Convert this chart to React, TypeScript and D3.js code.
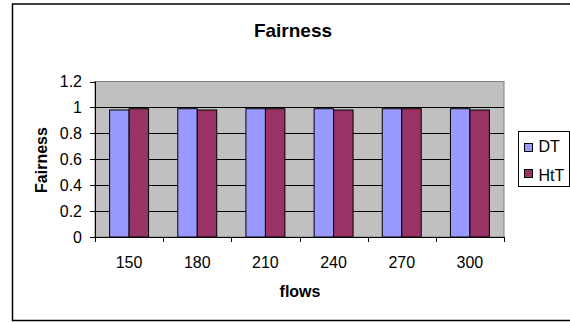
import React from "react";
import * as d3 from "d3";

const categories = ["150", "180", "210", "240", "270", "300"];
const seriesNames = ["DT", "HtT"];
const dtValues = [0.98, 0.99, 0.99, 0.99, 0.99, 0.99];
const httValues = [0.99, 0.98, 0.99, 0.98, 0.99, 0.98];
const yTicks = [0, 0.2, 0.4, 0.6, 0.8, 1, 1.2];
const colors = ["#9999FF", "#993366"];

const W = 570;
const H = 322;
const plot = { left: 95, right: 504, top: 81.5, bottom: 237 };
const FONT = "'Liberation Sans', Arial, sans-serif";

export default function App() {
  const x = d3.scaleBand<string>().domain(categories).range([plot.left, plot.right]).padding(0);
  const xs = d3.scaleBand<string>().domain(seriesNames).range([0, x.bandwidth()]).paddingInner(0).paddingOuter(0.75);
  const y = d3.scaleLinear().domain([0, 1.2]).range([plot.bottom, plot.top]);
  const series = [dtValues, httValues];
  const fmt = (v: number) => (v === 0 ? "0" : v === 1 ? "1" : d3.format(".1f")(v));

  return (
    <svg width={W} height={H} style={{ position: "absolute", left: 0, top: 0, display: "block", background: "#fff" }}>
      <rect x={12.5} y={4} width={600} height={316.5} fill="#fff" stroke="#000" strokeWidth={1.5} />
      <text x={293} y={36.5} textAnchor="middle" fontFamily={FONT} fontWeight="bold" fontSize={19}>Fairness</text>
      <rect x={plot.left} y={plot.top} width={plot.right - plot.left} height={plot.bottom - plot.top} fill="#C0C0C0" stroke="#808080" strokeWidth={1} />
      {yTicks.filter((t) => t > 0 && t < 1.2).map((t) => (
        <line key={"g" + t} x1={plot.left} x2={plot.right} y1={Math.round(y(t)) + 0.5} y2={Math.round(y(t)) + 0.5} stroke="#000" strokeWidth={1} />
      ))}
      {categories.map((c, i) =>
        series.map((vals, s) => (
          <rect
            key={c + s}
            x={x(c)! + xs(seriesNames[s])!}
            y={y(vals[i])}
            width={xs.bandwidth()}
            height={y(0) - y(vals[i])}
            fill={colors[s]}
            stroke="#000"
            strokeWidth={1}
          />
        ))
      )}
      <line x1={plot.left + 0.5} x2={plot.left + 0.5} y1={plot.top} y2={plot.bottom} stroke="#000" />
      <line x1={plot.left} x2={plot.right} y1={plot.bottom + 0.5} y2={plot.bottom + 0.5} stroke="#000" />
      {yTicks.map((t) => (
        <g key={"yt" + t}>
          <line x1={plot.left - 5} x2={plot.left} y1={Math.round(y(t)) + 0.5} y2={Math.round(y(t)) + 0.5} stroke="#000" />
          <text x={82} y={y(t) + 5.5} textAnchor="end" fontFamily={FONT} fontSize={16}>{fmt(t)}</text>
        </g>
      ))}
      {[...categories.map((c) => x(c)!), plot.right].map((px, i) => (
        <line key={"xt" + i} x1={Math.round(px) + 0.5} x2={Math.round(px) + 0.5} y1={plot.bottom} y2={plot.bottom + 5} stroke="#000" />
      ))}
      {categories.map((c) => (
        <text key={"xl" + c} x={x(c)! + x.bandwidth() / 2} y={268} textAnchor="middle" fontFamily={FONT} fontSize={16}>{c}</text>
      ))}
      <text x={300} y={297} textAnchor="middle" fontFamily={FONT} fontWeight="bold" fontSize={16}>flows</text>
      <text transform={`translate(46.5,160) rotate(-90)`} textAnchor="middle" fontFamily={FONT} fontWeight="bold" fontSize={16}>Fairness</text>
      <rect x={518.5} y={131.5} width={51} height={55} fill="#fff" stroke="#000" strokeWidth={1} />
      {seriesNames.map((n, i) => (
        <g key={"lg" + n}>
          <rect x={524.5} y={143.5 + i * 26} width={8} height={8} fill={colors[i]} stroke="#000" strokeWidth={1} />
          <text x={538.5} y={151.5 + i * 29} fontFamily={FONT} fontSize={16}>{n}</text>
        </g>
      ))}
    </svg>
  );
}
